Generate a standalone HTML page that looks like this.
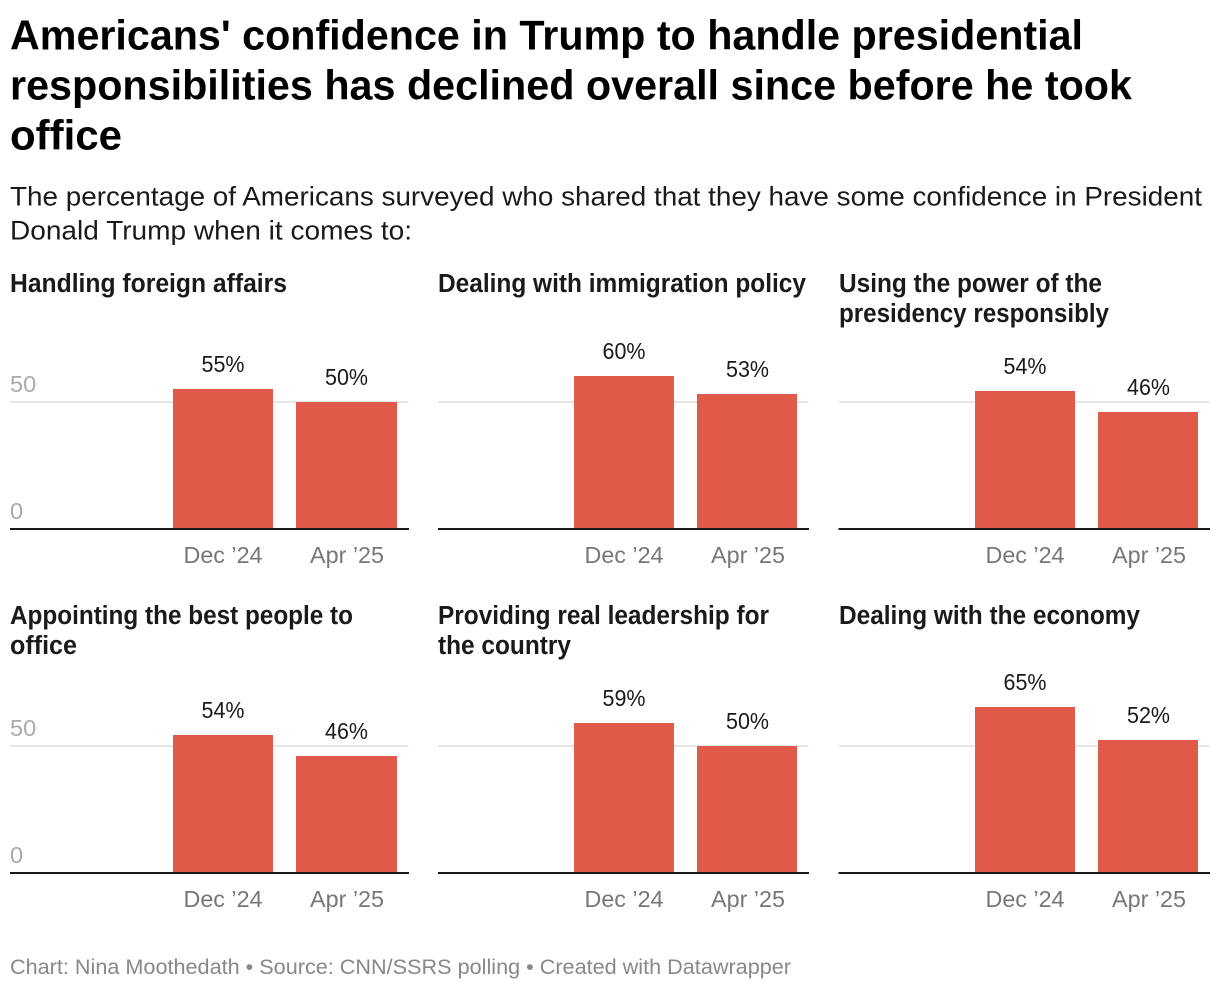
<!DOCTYPE html>
<html lang="en">
<head>
<meta charset="utf-8">
<title>Americans' confidence in Trump</title>
<style>
html,body{margin:0;padding:0;background:#fff;width:1220px;height:990px;overflow:hidden}
svg{display:block;font-family:"Liberation Sans",Arial,sans-serif}
.t{font-size:42px;font-weight:700;fill:#000}
.s{font-size:27px;fill:#1a1a1a}
.p{font-size:25.5px;font-weight:700;fill:#1a1a1a}
.f{font-size:21.5px;fill:#888}
.v{font-size:23px;fill:#1a1a1a;text-anchor:middle}
.x{font-size:23.5px;fill:#777;text-anchor:middle}
.y{font-size:23.5px;fill:#aaa}
</style>
</head>
<body>
<svg id="chart" width="1220" height="990" viewBox="0 0 1220 990">
<rect width="1220" height="990" fill="#fff"/>
<g>
<text class="t" x="10" y="49.5" textLength="1073" lengthAdjust="spacingAndGlyphs">Americans' confidence in Trump to handle presidential</text>
<text class="t" x="10" y="99.5" textLength="1122" lengthAdjust="spacingAndGlyphs">responsibilities has declined overall since before he took</text>
<text class="t" x="10" y="149.5" textLength="112" lengthAdjust="spacingAndGlyphs">office</text>
</g>
<g>
<text class="s" x="10" y="205.5" textLength="1192" lengthAdjust="spacingAndGlyphs">The percentage of Americans surveyed who shared that they have some confidence in President</text>
<text class="s" x="10" y="239.5" textLength="402" lengthAdjust="spacingAndGlyphs">Donald Trump when it comes to:</text>
</g>
<g>
<text class="p" x="10" y="292" textLength="277" lengthAdjust="spacingAndGlyphs">Handling foreign affairs</text>
<text class="p" x="438" y="292" textLength="368" lengthAdjust="spacingAndGlyphs">Dealing with immigration policy</text>
<text class="p" x="839" y="292" textLength="263" lengthAdjust="spacingAndGlyphs">Using the power of the</text>
<text class="p" x="839" y="322" textLength="270" lengthAdjust="spacingAndGlyphs">presidency responsibly</text>
<text class="p" x="10" y="624" textLength="343" lengthAdjust="spacingAndGlyphs">Appointing the best people to</text>
<text class="p" x="10" y="654" textLength="67" lengthAdjust="spacingAndGlyphs">office</text>
<text class="p" x="438" y="624" textLength="331" lengthAdjust="spacingAndGlyphs">Providing real leadership for</text>
<text class="p" x="438" y="654" textLength="133" lengthAdjust="spacingAndGlyphs">the country</text>
<text class="p" x="839" y="624" textLength="301" lengthAdjust="spacingAndGlyphs">Dealing with the economy</text>
</g>
<text class="f" x="10" y="974" textLength="781" lengthAdjust="spacingAndGlyphs">Chart: Nina Moothedath • Source: CNN/SSRS polling • Created with Datawrapper</text>
</svg>
<script>
const periods = ['Dec ’24', 'Apr ’25'];
const panelNames = ['foreign-affairs', 'immigration', 'presidency', 'appointing', 'leadership', 'economy'];
const dec24Values = [55, 60, 54, 54, 59, 65];
const apr25Values = [50, 53, 46, 46, 50, 52];
const yTicks = [0, 50];
const yTickLabels = ['0', '50'];

const NS = 'http://www.w3.org/2000/svg';
const svg = document.getElementById('chart');
const COLS = [
  {l: 10, r: 409, xs: [173, 296], ws: [100, 101], showY: true},
  {l: 438, r: 809, xs: [574, 697], ws: [100, 100]},
  {l: 838.5, r: 1210, xs: [975, 1098], ws: [100, 100]}
];
const BASELINES = [529, 873];
const PX_PER_UNIT = 2.55;

function yScale(base, v) { return Math.round(base - v * PX_PER_UNIT); }

function make(tag, attrs, text) {
  const el = document.createElementNS(NS, tag);
  for (const k in attrs) el.setAttribute(k, attrs[k]);
  if (text !== undefined) el.textContent = text;
  return el;
}

panelNames.forEach(function (name, i) {
  const col = COLS[i % 3];
  const base = BASELINES[Math.floor(i / 3)];
  const g = make('g', {});
  
  
  svg.appendChild(g);

  yTicks.forEach(function (t, k) {
    const y = yScale(base, t);
    if (t !== 0) {
      const grid = make('line', {x1: Math.ceil(col.l), x2: col.r - 0.5, y1: y, y2: y, stroke: '#e6e6e6', 'stroke-width': 2});
      
      
      g.appendChild(grid);
    }
    if (col.showY) {
      const lab = make('text', {x: 10, y: y - 10, 'class': 'y'}, yTickLabels[k]);
      
      
      g.appendChild(lab);
    }
  });

  [dec24Values[i], apr25Values[i]].forEach(function (v, j) {
    const top = yScale(base, v);
    const cx = col.xs[j] + 50;
    const bar = make('rect', {x: col.xs[j], y: top, width: col.ws[j], height: base - top, fill: '#e15949'});
    
    
    g.appendChild(bar);

    const val = make('text', {x: cx + (j === 1 ? 0.5 : 0), y: top - 17, 'class': 'v', textLength: 43, lengthAdjust: 'spacingAndGlyphs'}, v + '%');
    
    
    g.appendChild(val);

    const xl = make('text', {x: cx + (j === 1 ? 1 : 0), y: base + 34, 'class': 'x', textLength: j === 0 ? 79 : 74, lengthAdjust: 'spacingAndGlyphs'}, periods[j]);
    
    
    g.appendChild(xl);
  });

  const axis = make('line', {x1: col.l, x2: col.r, y1: base, y2: base, stroke: '#1a1a1a', 'stroke-width': 2});
  
  
  g.appendChild(axis);
});
</script>
</body>
</html>
